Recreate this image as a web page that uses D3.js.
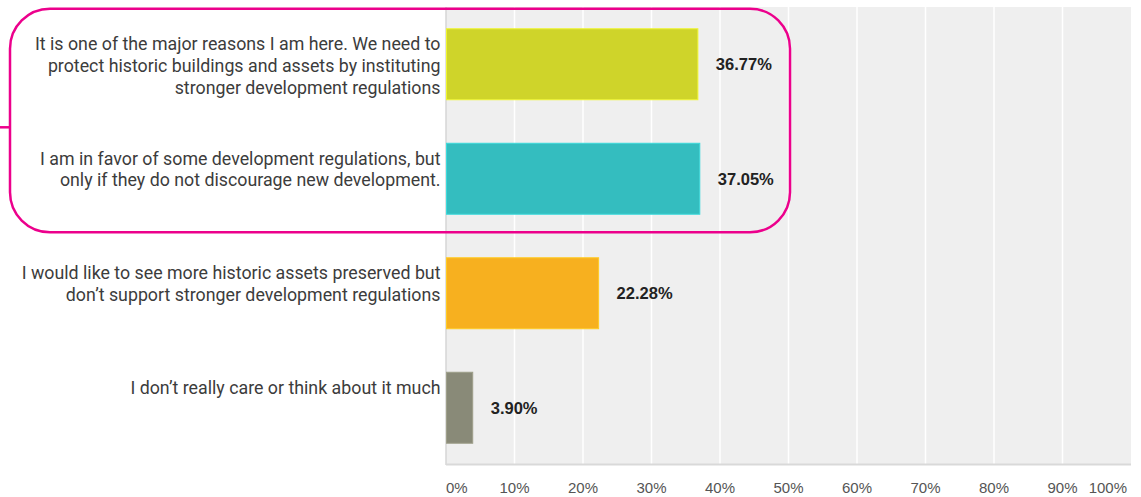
<!DOCTYPE html>
<html>
<head>
<meta charset="utf-8">
<script src="https://cdn.jsdelivr.net/npm/d3@7"></script>
<style>
  html, body { margin: 0; padding: 0; background: #ffffff; }
  svg { display: block; }
</style>
</head>
<body>
<svg id="chart" width="1141" height="497"></svg>
<script>
// ---- data ----
const categories = [
  ["It is one of the major reasons I am here. We need to", "protect historic buildings and assets by instituting", "stronger development regulations"],
  ["I am in favor of some development regulations, but", "only if they do not discourage new development."],
  ["I would like to see more historic assets preserved but", "don\u2019t support stronger development regulations"],
  ["I don\u2019t really care or think about it much"]
];
const values = [36.77, 37.05, 22.28, 3.90];
const valueLabels = ["36.77%", "37.05%", "22.28%", "3.90%"];
const barColors = ["#cfd42a", "#34bdbf", "#f7b01f", "#898a78"];
const tickValues = [0, 10, 20, 30, 40, 50, 60, 70, 80, 90, 100];
const tickLabels = ["0%", "10%", "20%", "30%", "40%", "50%", "60%", "70%", "80%", "90%", "100%"];
const highlightGroup = [0, 1]; // categories enclosed by the magenta outline

// ---- layout ----
const svg = d3.select("#chart");
const plot = { left: 446, right: 1131, top: 7, bottom: 465 };

const x = d3.scaleLinear().domain([0, 100]).range([plot.left, plot.right]);
const y = d3.scaleBand()
  .domain(d3.range(values.length))
  .range([plot.top, plot.bottom])
  .paddingInner(0.38)
  .paddingOuter(0.19);

// background
svg.append("rect")
  .attr("x", plot.left).attr("y", plot.top)
  .attr("width", plot.right - plot.left).attr("height", plot.bottom - plot.top)
  .attr("fill", "#efefef");

// gridlines
svg.append("g").selectAll("line")
  .data(tickValues.filter(t => t > 0 && t < 100))
  .join("line")
  .attr("x1", d => x(d)).attr("x2", d => x(d))
  .attr("y1", plot.top).attr("y2", plot.bottom)
  .attr("stroke", "#ffffff").attr("stroke-width", 1.5);

// left axis line
svg.append("line")
  .attr("x1", plot.left).attr("x2", plot.left)
  .attr("y1", plot.top).attr("y2", plot.bottom)
  .attr("stroke", "#d6d6d6").attr("stroke-width", 1.5);

// bottom axis line
svg.append("line")
  .attr("x1", plot.left).attr("x2", plot.right)
  .attr("y1", plot.bottom - 0.5).attr("y2", plot.bottom - 0.5)
  .attr("stroke", "#d9d9d9").attr("stroke-width", 2);

// bars
svg.append("g").selectAll("rect")
  .data(values)
  .join("rect")
  .attr("x", x(0) + 0.5)
  .attr("y", (d, i) => y(i))
  .attr("width", d => x(d) - x(0) - 0.5)
  .attr("height", y.bandwidth())
  .attr("fill", (d, i) => barColors[i])
  .attr("stroke", (d, i) => d3.color(barColors[i]).brighter(0.4))
  .attr("stroke-width", 1);

// value labels
svg.append("g").selectAll("text")
  .data(values)
  .join("text")
  .attr("x", d => x(d) + 18)
  .attr("y", (d, i) => y(i) + y.bandwidth() / 2)
  .attr("dy", "0.36em")
  .attr("font-family", "'Liberation Sans', Arial, sans-serif")
  .attr("font-weight", "bold")
  .attr("font-size", "16.5px")
  .attr("fill", "#222222")
  .text((d, i) => valueLabels[i]);

// category labels
const lineH = 21.7;
const catG = svg.append("g");
categories.forEach((lines, i) => {
  const t = catG.append("text")
    .attr("font-family", "Roboto, 'Open Sans', sans-serif")
    .attr("font-size", "17.8px")
    .attr("fill", "#3c3c3c")
    .attr("text-anchor", "end");
  lines.forEach((ln, j) => {
    t.append("tspan")
      .attr("x", plot.left - 5.5)
      .attr("y", y(i) + 15 + j * lineH)
      .attr("dy", "0.36em")
      .text(ln);
  });
});

// x tick labels
svg.append("g").selectAll("text")
  .data(tickValues)
  .join("text")
  .attr("x", (d, i) => x(d))
  .attr("y", 493)
  .attr("text-anchor", (d, i) => i === 0 ? "start" : (i === tickValues.length - 1 ? "end" : "middle"))
  .attr("dx", (d, i) => i === tickValues.length - 1 ? -4 : 0)
  .attr("font-family", "'Liberation Sans', Arial, sans-serif")
  .attr("font-size", "15px")
  .attr("fill", "#555555")
  .text((d, i) => tickLabels[i]);

// magenta highlight outline around the first two categories
const hlTop = y(highlightGroup[0]) - 20;
const hlBottom = y(highlightGroup[highlightGroup.length - 1]) + y.bandwidth() + 18;
const hl = svg.append("g").attr("fill", "none").attr("stroke", "#ec008c").attr("stroke-width", 2.5);
hl.append("rect")
  .attr("x", 10).attr("y", hlTop)
  .attr("width", 790 - 10).attr("height", hlBottom - hlTop)
  .attr("rx", 40).attr("ry", 40);
hl.append("line")
  .attr("x1", 0).attr("x2", 10)
  .attr("y1", 127.3).attr("y2", 127.3);
</script>
</body>
</html>
